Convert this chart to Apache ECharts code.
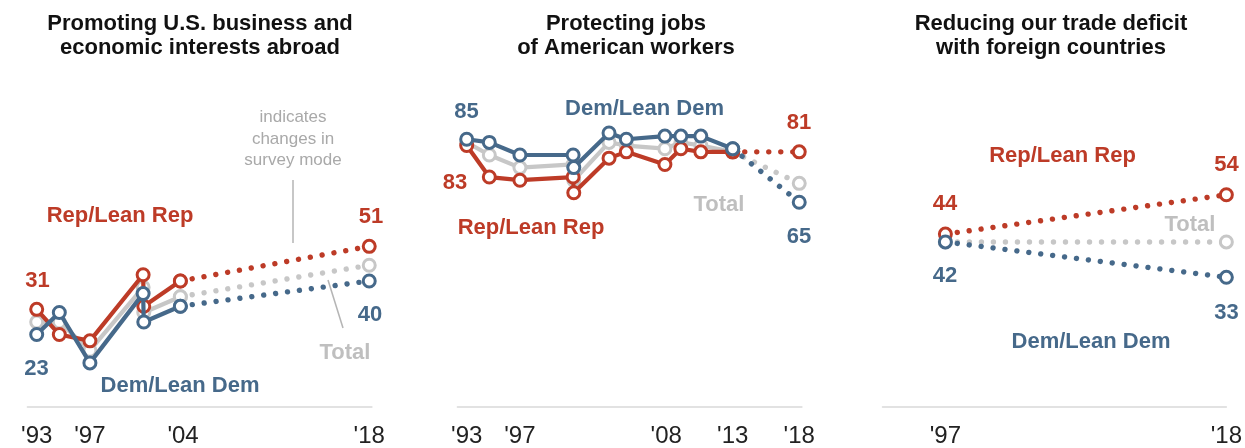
<!DOCTYPE html>
<html>
<head>
<meta charset="utf-8">
<script src="https://cdn.jsdelivr.net/npm/echarts@6/dist/echarts.min.js"></script>
<style>
html,body{margin:0;padding:0;background:#fff;}
#c{width:1245px;height:448px;}
</style>
</head>
<body>
<div id="c"></div>
<script>
// ---- Data ----
const titles = [
  'Promoting U.S. business and\neconomic interests abroad',
  'Protecting jobs\nof American workers',
  'Reducing our trade deficit\nwith foreign countries'
];
const newModeYear = 2018;

const leftYears = [1993, 1994.7, 1997, 2001, 2001.05, 2003.8];
const leftRep = [31, 23, 21, 42, 32, 40];
const leftDem = [23, 30, 14, 36, 27, 32];
const leftTotal = [27, 27, 18, 38, 30, 35];
const leftRep2018 = 51, leftDem2018 = 40, leftTotal2018 = 45;
const leftTicks = [1993, 1997, 2004, 2018];

const midYears = [1993, 1994.7, 1997, 2001, 2001.05, 2003.7, 2005, 2007.9, 2009.1, 2010.6, 2013];
const midRep = [83, 73, 72, 73, 68, 79, 81, 77, 82, 81, 81];
const midDem = [85, 84, 80, 80, 76, 87, 85, 86, 86, 86, 82];
const midTotal = [84, 80, 76, 77, 72, 84, 83, 82, 84, 83, 81];
const midRep2018 = 81, midDem2018 = 65, midTotal2018 = 71;
const midTicks = [1993, 1997, 2008, 2013, 2018];

const rightYears = [1997];
const rightRep = [44];
const rightDem = [42];
const rightTotal = [42];
const rightRep2018 = 54, rightDem2018 = 33, rightTotal2018 = 42;
const rightTicks = [1997, 2018];

// ---- Styles ----
const RED = '#bd3b27';
const BLUE = '#46698a';
const GRAY = '#c7c7c7';
const GRAYTXT = '#bfbfbf';
const NOTE = '#a9a9a9';
const FONT = '"Liberation Sans", Arial, sans-serif';

const chart = echarts.init(document.getElementById('c'), null, {renderer: 'canvas'});

const grids = [
  {left: 27.4, top: 92, width: 344.5, height: 316},
  {left: 457.4, top: 92, width: 344.5, height: 316},
  {left: 882.5, top: 14, width: 344.5, height: 394}
];
const xRanges = [[1992.3, 2018.2], [1992.3, 2018.2], [1992.3, 2018.0]];
const tickSets = [leftTicks, midTicks, rightTicks];

const xAxes = grids.map((g, i) => ({
  type: 'value', gridIndex: i, min: xRanges[i][0], max: xRanges[i][1],
  splitLine: {show: false},
  axisTick: {show: false},
  axisLine: {show: true, onZero: true, lineStyle: {color: '#d9d9d9', width: 1.5}},
  axisLabel: {
    customValues: tickSets[i], margin: 17,
    formatter: v => "'" + String(Math.round(v)).slice(2),
    color: '#222', fontSize: 24, fontFamily: FONT, showMinLabel: true, showMaxLabel: true
  }
}));
const yAxes = grids.map((g, i) => ({
  type: 'value', gridIndex: i, min: 0, max: 100, show: false, splitLine: {show: false}
}));

const series = [];
function solid(gi, xs, ys, color, z) {
  series.push({
    type: 'line', xAxisIndex: gi, yAxisIndex: gi, z: z,
    data: xs.map((x, k) => [x, ys[k]]),
    symbol: 'circle', symbolSize: 12, showSymbol: true, animation: false,
    lineStyle: {color: color, width: 4.2},
    itemStyle: {color: '#fff', borderColor: color, borderWidth: 3}
  });
}
function dotted(gi, x0, y0, y1, color, z) {
  series.push({
    type: 'line', xAxisIndex: gi, yAxisIndex: gi, z: z - 0.5,
    data: [[x0, y0], [newModeYear, y1]],
    symbol: 'circle', symbolSize: 12, showSymbol: true, animation: false,
    lineStyle: {color: color, width: 5.4, type: [0.01, 12], cap: 'round'},
    itemStyle: {color: '#fff', borderColor: color, borderWidth: 3}
  });
}
const last = a => a[a.length - 1];
// Left
solid(0, leftYears, leftTotal, GRAY, 2);
solid(0, leftYears, leftRep, RED, 3);
solid(0, leftYears, leftDem, BLUE, 4);
dotted(0, last(leftYears), last(leftTotal), leftTotal2018, GRAY, 2);
dotted(0, last(leftYears), last(leftRep), leftRep2018, RED, 3);
dotted(0, last(leftYears), last(leftDem), leftDem2018, BLUE, 4);
// Middle
solid(1, midYears, midTotal, GRAY, 2);
solid(1, midYears, midRep, RED, 3);
solid(1, midYears, midDem, BLUE, 4);
dotted(1, last(midYears), last(midTotal), midTotal2018, GRAY, 2);
dotted(1, last(midYears), last(midRep), midRep2018, RED, 3);
dotted(1, last(midYears), last(midDem), midDem2018, BLUE, 4);
// Right
dotted(2, rightYears[0], rightTotal[0], rightTotal2018, GRAY, 2);
dotted(2, rightYears[0], rightRep[0], rightRep2018, RED, 3);
dotted(2, rightYears[0], rightDem[0], rightDem2018, BLUE, 4);

function txt(text, x, y, color, opts) {
  opts = opts || {};
  return {
    type: 'text', x: x, y: y, z: 100, silent: true,
    style: {
      text: text, fill: color, align: 'center', verticalAlign: 'middle',
      fontSize: opts.size || 22, fontWeight: opts.weight || 'bold', fontFamily: FONT,
      lineHeight: opts.lh || undefined
    }
  };
}
function seg(x1, y1, x2, y2) {
  return {type: 'line', z: 1, silent: true, shape: {x1, y1, x2, y2}, style: {stroke: '#b5b5b5', lineWidth: 1.5}};
}

const titleCenters = [200, 626, 1051];
const graphics = [];
titles.forEach((t, i) => graphics.push(txt(t, titleCenters[i], 36, '#111', {size: 22, lh: 24})));
// Left panel texts
graphics.push(txt('Rep/Lean Rep', 120, 216, RED));
graphics.push(txt('Dem/Lean Dem', 180, 386, BLUE));
graphics.push(txt(String(leftRep[0]), 37.5, 281, RED));
graphics.push(txt(String(leftDem[0]), 36.5, 369, BLUE));
graphics.push(txt(String(leftRep2018), 371, 217, RED));
graphics.push(txt(String(leftDem2018), 370, 315, BLUE));
graphics.push(txt('Total', 345, 353, GRAYTXT));
graphics.push(txt('indicates\nchanges in\nsurvey mode', 293, 139, NOTE, {size: 17, weight: 'normal', lh: 21.5}));
graphics.push(seg(293, 180, 293, 243));
graphics.push(seg(328, 280, 343, 328));
// Middle panel texts
graphics.push(txt(String(midDem[0]), 466.5, 112, BLUE));
graphics.push(txt(String(midRep[0]), 455, 183, RED));
graphics.push(txt('Rep/Lean Rep', 531, 228, RED));
graphics.push(txt('Dem/Lean Dem', 644.5, 109, BLUE));
graphics.push(txt(String(midRep2018), 799, 123, RED));
graphics.push(txt('Total', 719, 205, GRAYTXT));
graphics.push(txt(String(midDem2018), 799, 237, BLUE));
// Right panel texts
graphics.push(txt('Rep/Lean Rep', 1062.5, 156, RED));
graphics.push(txt(String(rightRep2018), 1226.5, 165, RED));
graphics.push(txt(String(rightRep[0]), 945, 204, RED));
graphics.push(txt('Total', 1190, 225, GRAYTXT));
graphics.push(txt(String(rightDem[0]), 945, 276, BLUE));
graphics.push(txt(String(rightDem2018), 1226.5, 313, BLUE));
graphics.push(txt('Dem/Lean Dem', 1091, 342, BLUE));

chart.setOption({
  backgroundColor: '#fff',
  animation: false,
  grid: grids,
  xAxis: xAxes,
  yAxis: yAxes,
  series: series,
  graphic: graphics
});
</script>
</body>
</html>
